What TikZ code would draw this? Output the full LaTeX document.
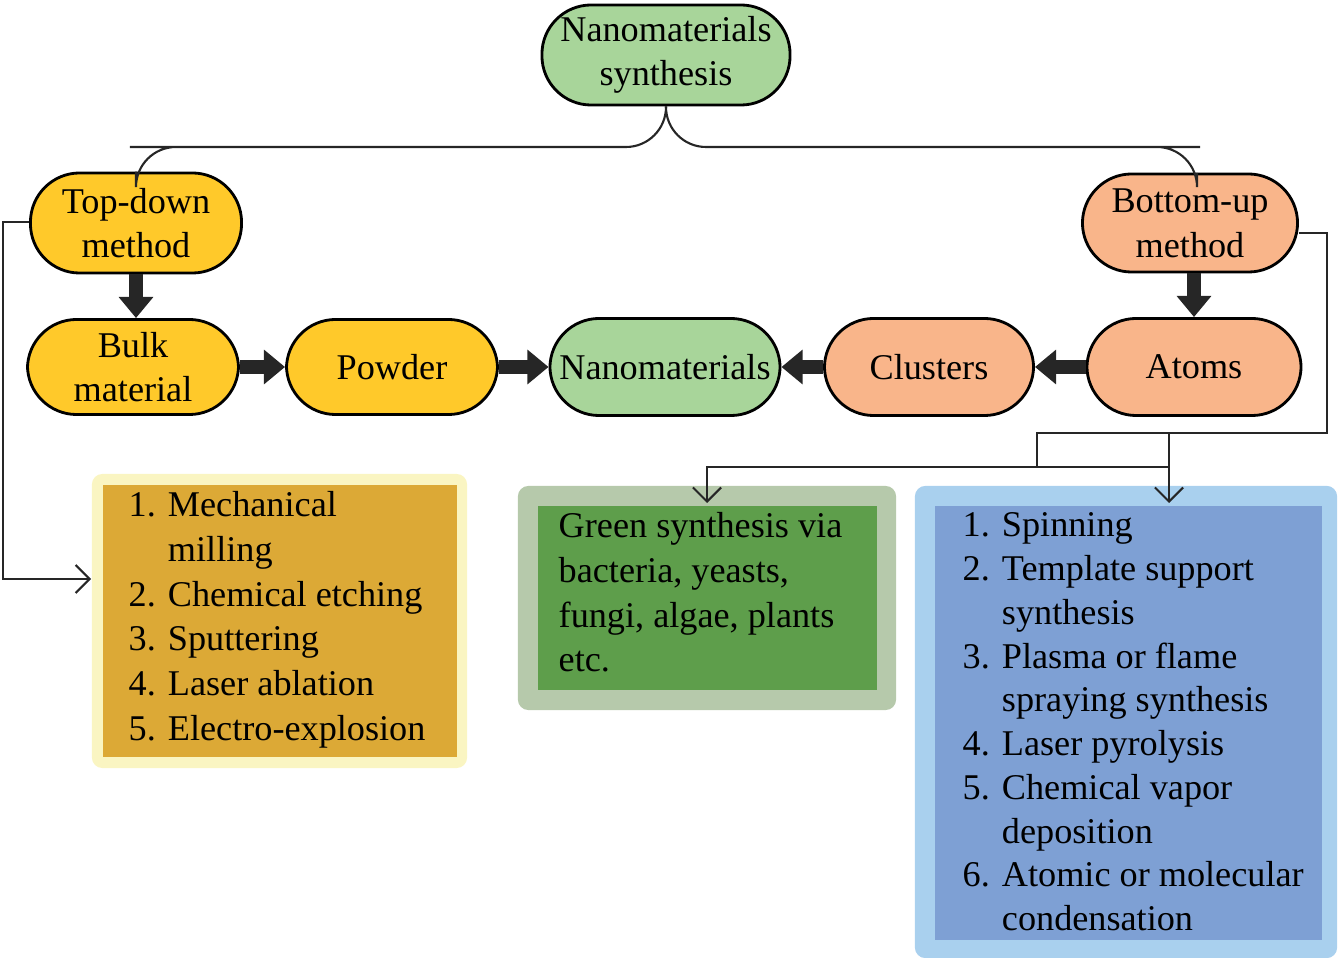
\documentclass[tikz,border=0pt]{standalone}
\usepackage{fontspec}
\setmainfont{Liberation Serif}
\usetikzlibrary{arrows.meta}
\definecolor{cGreen}{HTML}{A8D59A}
\definecolor{cYellow}{HTML}{FFC92A}
\definecolor{cOrange}{HTML}{F9B58A}
\definecolor{cPale}{HTML}{FAF5C2}
\definecolor{cOchre}{HTML}{DCA936}
\definecolor{cSage}{HTML}{B6C9AB}
\definecolor{cLeaf}{HTML}{5E9E4B}
\definecolor{cSky}{HTML}{A9D0EE}
\definecolor{cSteel}{HTML}{7EA0D4}
\tikzstyle{box}=[rectangle, rounded corners=14pt, draw=black, line width=0.8pt, align=center, inner sep=0pt]
\tikzstyle{bg}=[rectangle, inner sep=0pt, rounded corners=3pt]
\tikzstyle{list}=[anchor=north west, align=left, inner sep=0pt]
\tikzstyle{fat}=[line width=4pt, draw=black!85, -{Triangle[length=6pt,width=9.5pt]}]
\tikzstyle{link}=[line width=0.6pt, draw=black!85]
\tikzstyle{linkArrow}=[link, -{Straight Barb[length=4pt,width=8pt]}]
\begin{document}
\begin{tikzpicture}[x=0.01cm, y=-0.01cm, font=\fontsize{10.3}{12.7}\selectfont]
	\useasboundingbox (0,0) rectangle (1342,958);
	\draw (666,55) node[box, fill=cGreen, minimum width=2.48cm, minimum height=1cm] (top) {Nanomaterials\\synthesis};
	\draw (136,223) node[box, fill=cYellow, minimum width=2.11cm, minimum height=1cm] (td) {Top-down\\method};
	\draw (1190,223) node[box, fill=cOrange, minimum width=2.15cm, minimum height=0.98cm] (bu) {Bottom-up\\method};
	%
	\draw (133,367) node[box, fill=cYellow, minimum width=2.11cm, minimum height=0.95cm] (bulk) {Bulk\\material};
	\draw (392,367) node[box, fill=cYellow, minimum width=2.11cm, minimum height=0.95cm] (pow) {Powder};
	\draw (665,367) node[box, fill=cGreen, minimum width=2.3cm, minimum height=0.97cm] (nano) {Nanomaterials};
	\draw (929,367) node[box, fill=cOrange, minimum width=2.09cm, minimum height=0.97cm] (clu) {Clusters};
	\draw (1194,367) node[box, fill=cOrange, minimum width=2.14cm, minimum height=0.97cm] (atm) {Atoms};
	%
	\draw (279.5,621) node[bg, fill=cPale, minimum width=3.75cm, minimum height=2.94cm] (yo) {};
	\draw (280,621) node[bg, fill=cOchre, rounded corners=0pt, minimum width=3.54cm, minimum height=2.72cm] (yi) {};
	\draw (707,598) node[bg, fill=cSage, minimum width=3.78cm, minimum height=2.24cm] (go) {};
	\draw (707.5,598) node[bg, fill=cLeaf, rounded corners=0pt, minimum width=3.39cm, minimum height=1.84cm] (gi) {};
	\draw (1126,722) node[bg, fill=cSky, minimum width=4.22cm, minimum height=4.72cm] (bo) {};
	\draw (1128.5,723) node[bg, fill=cSteel, rounded corners=0pt, minimum width=3.87cm, minimum height=4.34cm] (bi) {};
	%
	\draw (128,491) node[list] (ylist) {1. Mechanical\\\phantom{1. }milling\\2. Chemical etching\\3. Sputtering\\4. Laser ablation\\5. Electro-explosion};
	\draw (558,512) node[list] (glist) {Green synthesis via\\bacteria, yeasts,\\fungi, algae, plants\\etc.};
	\draw (962,512) node[list, font=\fontsize{10.3}{12.45}\selectfont] (blist) {1. Spinning\\2. Template support\\\phantom{1. }synthesis\\3. Plasma or flame\\\phantom{1. }spraying synthesis\\4. Laser pyrolysis\\5. Chemical vapor\\\phantom{1. }deposition\\6. Atomic or molecular\\\phantom{1. }condensation};
	%
	\draw[link, rounded corners=0.4cm] (top.south) |- (170,147) -| (td.north);
	\draw[link, rounded corners=0.4cm] (top.south) |- (1160,147) -| (1197,173);
	%
	\draw[fat] (td.south) -- (td.south |- bulk.north);
	\draw[fat] (bu.south -| 1194,0) -- (atm.north);
	\draw[fat] (bulk.east) -- (pow.west);
	\draw[fat] (pow.east) -- (nano.west);
	\draw[fat] (clu.west) -- (nano.east);
	\draw[fat] (atm.west) -- (clu.east);
	%
	\coordinate (jl) at (1037,433);
	\coordinate (jm) at (1037,467);
	\draw[linkArrow] (td.west |- 0,222) -| (3,579) -- (yo.west |- 0,579);
	\draw[link] (bu.east |- 0,233) -| (1327,433) -- (jl) -- (jm);
	\draw[linkArrow] (1327,433) -| (1169,503);
	\draw[linkArrow] (jm) -| (707,503);
	\draw[link] (jm) -- (1169,467);
\end{tikzpicture}
\end{document}
